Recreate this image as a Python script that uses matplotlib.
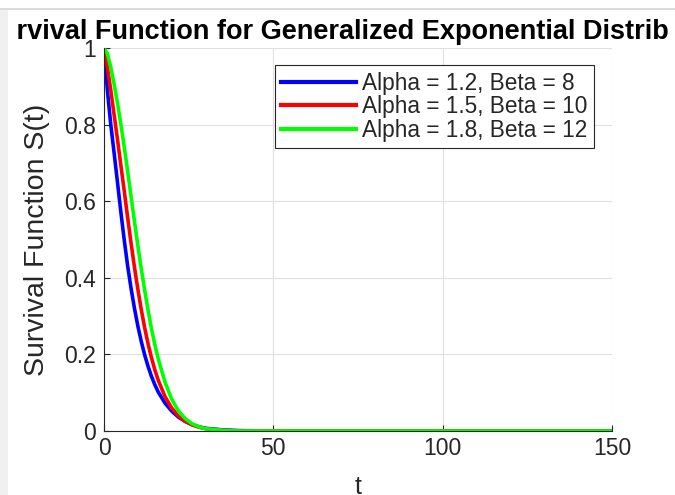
import matplotlib
matplotlib.use("Agg")
import matplotlib.pyplot as plt
from matplotlib.patches import Rectangle
from matplotlib.lines import Line2D
from matplotlib.transforms import Bbox

# values
t = [0, 1, 2, 3, 4, 5, 6, 7, 8, 9, 10, 11, 12, 13, 14, 15, 16,
     18, 20, 22, 24, 26, 28, 30, 35, 40, 50, 150]
s_blue = [1.000, 0.890, 0.800, 0.725, 0.648, 0.570, 0.497, 0.430, 0.372, 0.320,
          0.274, 0.234, 0.199, 0.169, 0.143, 0.121, 0.102, 0.073, 0.052, 0.036,
          0.025, 0.017, 0.011, 0.007, 0.003, 0.001, 0.000, 0.000]
s_red = [1.000, 0.950, 0.890, 0.825, 0.760, 0.692, 0.625, 0.556, 0.490, 0.427,
         0.370, 0.317, 0.270, 0.228, 0.192, 0.160, 0.133, 0.090, 0.060, 0.039,
         0.025, 0.016, 0.010, 0.006, 0.002, 0.000, 0.000, 0.000]
s_green = [1.000, 0.985, 0.950, 0.905, 0.855, 0.800, 0.740, 0.677, 0.612, 0.547,
           0.484, 0.424, 0.368, 0.316, 0.268, 0.226, 0.189, 0.128, 0.083, 0.052,
           0.032, 0.019, 0.011, 0.006, 0.002, 0.000, 0.000, 0.000]
labels = ["Alpha = 1.2, Beta = 8", "Alpha = 1.5, Beta = 10", "Alpha = 1.8, Beta = 12"]
colors = ["#0000ff", "#ff0000", "#00ff00"]
xticks = [0, 50, 100, 150]
yticks = [0, 0.2, 0.4, 0.6, 0.8, 1]
yticklabels = ["0", "0.2", "0.4", "0.6", "0.8", "1"]

plt.rcParams["font.family"] = ["Liberation Sans", "DejaVu Sans"]
dark = "#262626"

W, H = 675, 495
fig = plt.figure(figsize=(W / 100, H / 100), dpi=100)
fig.patch.set_facecolor("white")

# window chrome of the screenshot: thin grey strip on the left and a line on top
fig.add_artist(Rectangle((0, 0), 8 / W, 1 - 10 / H, transform=fig.transFigure,
                         facecolor="#f0f0f0", edgecolor="none", zorder=0))
fig.add_artist(Line2D([0, 1], [1 - 9 / H, 1 - 9 / H], transform=fig.transFigure,
                      color="#d4d4d4", lw=1.2, zorder=0))

left, right, top, bottom = 104, 612, 48, 431
ax = fig.add_axes([left / W, 1 - bottom / H, (right - left) / W, (bottom - top) / H])

for s, c, lab in zip([s_blue, s_red, s_green], colors, labels):
    ax.plot(t, s, color=c, lw=2.6, label=lab, solid_joinstyle="round")

ax.set_xlim(0, 150)
ax.set_ylim(0, 1)
ax.set_xticks(xticks)
ax.set_yticks(yticks)
ax.set_yticklabels(yticklabels)
ax.grid(True, color="#e0e0e0", lw=0.8)
ax.set_axisbelow(True)
for side in ["top", "right"]:
    ax.spines[side].set_visible(False)
for side in ["left", "bottom"]:
    ax.spines[side].set_color(dark)
    ax.spines[side].set_linewidth(0.8)
ax.tick_params(direction="in", length=4, width=0.8, colors=dark, labelsize=16.5)
ax.tick_params(axis="y", pad=6)
ax.tick_params(axis="x", pad=4)

ax.set_xlabel("t", fontsize=18, color=dark, labelpad=11)
ax.set_ylabel("Survival Function S(t)", fontsize=20.5, color=dark, labelpad=10)
title = ax.set_title("Survival Function for Generalized Exponential Distribution",
                     fontsize=19.5, fontweight="bold", color="black", pad=6.5)
# the reference window cuts the long title off on both sides
title.set_clip_box(Bbox.from_extents(17, 0, 669, H))
title.set_clip_on(True)

leg = ax.legend(loc="upper right", bbox_to_anchor=((594 - left) / (right - left),
                                                   (bottom - 65) / (bottom - top)),
                borderaxespad=0, fontsize=16.3, handlelength=3.3, handletextpad=0.25,
                labelspacing=0.02, borderpad=0.3, fancybox=False, framealpha=1)
leg.get_frame().set_edgecolor(dark)
leg.get_frame().set_linewidth(0.8)
for h in leg.get_lines():
    h.set_linewidth(3.0)
for txt in leg.get_texts():
    txt.set_color(dark)

fig.savefig("out.png", dpi=100)
